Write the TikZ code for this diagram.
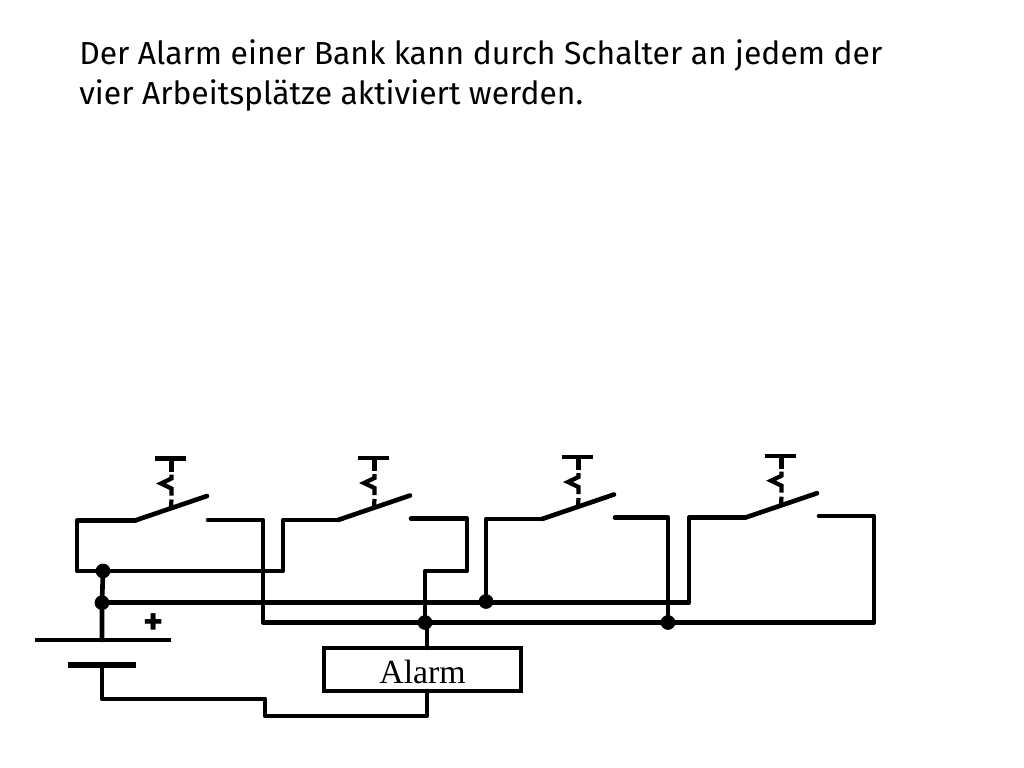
\documentclass[tikz,border=0pt]{standalone}
\usepackage{fontspec}
\setmainfont{Fira Sans}
\newfontfamily\serifalarm{Liberation Serif}
\usetikzlibrary{calc}
\tikzset{
    wire/.style={line width=3.3pt, line cap=round, line join=round},
    thinwire/.style={line width=3pt},
    plate/.style={line width=4.8pt},
    junction/.style={circle, fill=black, inner sep=0pt, minimum size=10.5pt},
}
% #1 name, #2 left end of the blade
\newcommand{\pushswitch}[2]{
    \coordinate (#1) at (#2);
    \coordinate (#1-tip) at ($(#1)+(72,-24.5)$);
    \coordinate (#1-stem) at ($(#1)+(36,-13)$);
    \draw[wire] (#1) -- (#1-tip);
    \draw[thinwire] ($(#1)+(20,-62)$) -- ($(#1)+(51,-62)$);
    \draw[thinwire] ($(#1)+(36.5,-62)$) -- ($(#1)+(36.5,-49)$);
    \draw[thinwire, line join=miter] ($(#1)+(36.5,-46)$) -- ($(#1)+(36.5,-42)$) -- ($(#1)+(26,-37)$) -- ($(#1)+(36.5,-32)$) -- ($(#1)+(36.5,-25)$);
    \draw[thinwire] ($(#1)+(36.5,-21)$) -- (#1-stem);
}
\begin{document}
\begin{tikzpicture}[x=0.025cm, y=-0.025cm]
    \useasboundingbox (0,0) rectangle (1024,768);

    \node[anchor=north west, align=left, inner sep=0pt, font=\fontsize{22.65}{28.4}\selectfont] (title) at (79,39)
        {Der Alarm einer Bank kann durch Schalter an jedem der\\vier Arbeitsplätze aktiviert werden.};

    \pushswitch{swa}{135,520.5}
    \pushswitch{swb}{338,520}
    \pushswitch{swc}{542,519}
    \pushswitch{swd}{745,517.7}

    \coordinate (conta) at (208,520);
    \coordinate (contb) at (411,518.7);
    \coordinate (contc) at (615,517.7);
    \coordinate (contd) at (819,516);

    \node[junction] (top) at (103,571) {};
    \node[junction] (plus) at (102,602.7) {};
    \node[junction] (busc) at (486,601.5) {};
    \node[junction] (retb) at (425,622.5) {};
    \node[junction] (retc) at (668,622.5) {};

    \node[draw, line width=3.3pt, minimum width=140pt, minimum height=30.5pt, inner sep=0pt, text height=20pt, font=\serifalarm\fontsize{24}{24}\selectfont] (alarm) at (422.5,669.5) {Alarm};

    \coordinate (batpos) at (102,640);
    \coordinate (batneg) at (102,665);

    % battery
    \draw[thinwire] (35,640) -- (171,640);
    \draw[plate] (68,665) -- (136,665);
    \node[font=\fontsize{27}{27}\selectfont\bfseries] (sign) at (153.5,624.5) {+};

    % supply side
    \draw[wire] (swa) -- (77,520.5) -- (77,571) -- (283,571) -- (283,520) -- (swb);
    \draw[wire] (top) -- (plus) -- (batpos);
    \draw[wire] (plus) -- (689,602.7) -- (689,517.7) -- (swd);
    \draw[wire] (busc) -- (486,519) -- (swc);

    % return side
    \draw[wire] (conta) -- (263,520) -- (263,622.5) -- (874,622.5) -- (874,516) -- (contd);
    \draw[wire] (contb) -- (467,518.7) -- (467,571) -- (425,571) -- (retb);
    \draw[wire] (427,622.5) -- (427,648);
    \draw[wire] (contc) -- (668,517.7) -- (retc);
    \draw[wire] (batneg) -- (102,699) -- (265,699) -- (265,716) -- (427,716) -- (427,691);
\end{tikzpicture}
\end{document}
